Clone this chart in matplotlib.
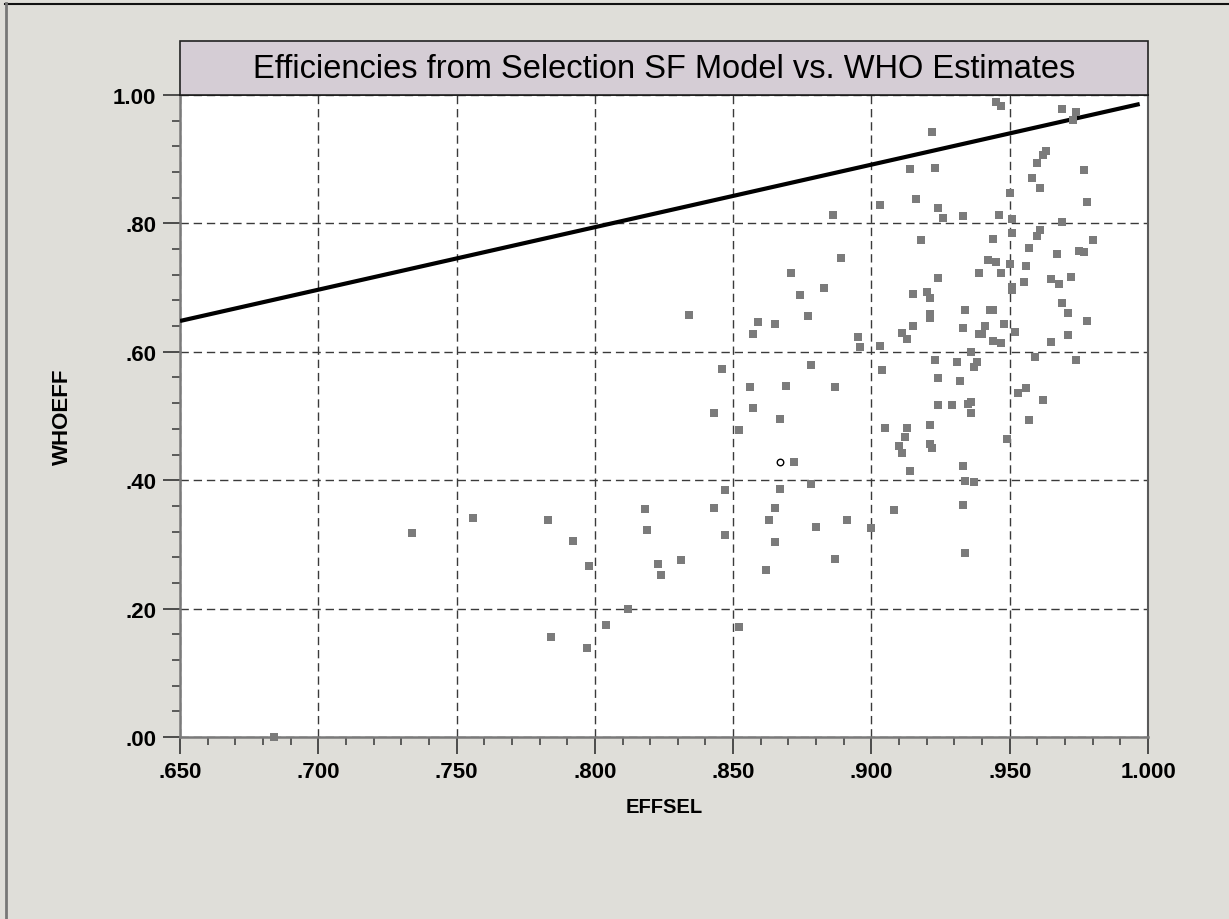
import matplotlib
matplotlib.use('Agg')
import matplotlib.pyplot as plt
from matplotlib.patches import Rectangle
from matplotlib.lines import Line2D
from matplotlib.ticker import MultipleLocator

plt.rcParams['font.family'] = ['Liberation Sans', 'DejaVu Sans']

# efficiency pairs (EFFSEL, WHOEFF)
eff_sel = [
    .734, .756, .783, .792, .798, .812, .804, .784, .797, .684,
    .843, .857, .867, .852, .905, .872, .847, .878, .867, .818,
    .843, .865, .819, .863, .880, .891, .900, .847, .865, .831,
    .823, .887, .824, .862, .852,
    .903, .886, .889, .871, .883, .874, .834, .877, .859, .865,
    .857, .895, .896, .903, .878, .904, .846, .856, .869, .887,
    .945, .947, .969, .974, .973, .922, .963, .962, .960, .977,
    .914, .923, .958, .961, .950, .916, .978, .924, .926, .933,
    .946, .951, .969, .951, .961, .960, .980, .918, .944, .957,
    .967, .975, .977, .942, .945, .950, .956, .939, .947, .924,
    .972, .965, .968, .955, .951, .951, .915, .920, .921, .969,
    .934, .943, .944, .971, .921, .921, .978, .915, .911, .933,
    .941, .940, .939, .948, .913, .952, .971, .965, .944, .947,
    .936, .959, .923, .974, .931, .938, .937, .924, .932, .956,
    .953, .962, .924, .929, .935, .936,
    .936, .957, .913, .921, .912, .910, .921, .922, .911, .949,
    .933, .914, .934, .937, .908, .933, .934,
]
who_eff = [
    .318, .341, .338, .305, .266, .200, .175, .155, .138, .000,
    .504, .512, .495, .478, .482, .428, .385, .394, .386, .355,
    .356, .356, .322, .338, .327, .338, .326, .314, .303, .275,
    .269, .277, .252, .260, .171,
    .828, .813, .746, .723, .700, .688, .657, .655, .647, .643,
    .627, .623, .607, .609, .579, .571, .573, .545, .546, .545,
    .989, .983, .978, .973, .961, .943, .912, .906, .894, .883,
    .884, .886, .870, .855, .848, .838, .834, .824, .808, .811,
    .813, .807, .802, .785, .790, .781, .774, .774, .775, .761,
    .752, .757, .755, .743, .740, .737, .733, .723, .723, .715,
    .716, .713, .706, .709, .701, .697, .690, .693, .684, .676,
    .665, .665, .665, .660, .659, .652, .648, .640, .630, .637,
    .640, .628, .628, .644, .620, .631, .626, .616, .617, .614,
    .599, .592, .588, .587, .584, .584, .576, .559, .554, .543,
    .536, .525, .517, .517, .519, .522,
    .504, .493, .482, .486, .467, .454, .457, .450, .443, .464,
    .422, .414, .398, .397, .353, .361, .286,
]

# highlighted observation (open circle)
odd_x = [.867]
odd_y = [.428]

# reference line
fit_x = [0.650, 0.997]
fit_y = [0.648, 0.986]

x_ticks = [.65, .70, .75, .80, .85, .90, .95, 1.0]
x_labels = ['.650', '.700', '.750', '.800', '.850', '.900', '.950', '1.000']
y_ticks = [0.0, 0.2, 0.4, 0.6, 0.8, 1.0]
y_labels = ['.00', '.20', '.40', '.60', '.80', '1.00']

W, H = 1229, 920
fig = plt.figure(figsize=(W / 100, H / 100), dpi=100, facecolor='#dfded9')
ax = fig.add_axes([180 / W, 1 - 738 / H, 968 / W, 642 / H])
ax.set_facecolor('white')

ax.set_xlim(0.65, 1.0)
ax.set_ylim(0.0, 1.0)

ax.grid(True, which='major', linestyle=(0, (6, 3.5)), color='#3a3a3a', linewidth=1.0, zorder=1)
ax.set_axisbelow(True)

ax.plot(fit_x, fit_y, color='black', linewidth=3.0, solid_capstyle='butt', zorder=3)
ax.scatter(eff_sel, who_eff, marker='s', s=26, color='#7b7b7b', linewidths=0, zorder=4, clip_on=False)
ax.scatter(odd_x, odd_y, marker='o', s=22, facecolors='white', edgecolors='black', linewidths=1.0, zorder=5)

ax.set_xticks(x_ticks)
ax.set_xticklabels(x_labels, fontweight='bold')
ax.set_yticks(y_ticks)
ax.set_yticklabels(y_labels, fontweight='bold')
ax.xaxis.set_minor_locator(MultipleLocator(0.01))
ax.yaxis.set_minor_locator(MultipleLocator(0.04))
ax.tick_params(which='major', direction='out', length=12, width=1.2, color='#333333', labelsize=16, pad=5)
ax.tick_params(which='minor', direction='out', length=6, width=1.2, color='#444444')

for side in ['left', 'bottom']:
    ax.spines[side].set_color('#7a7a7a')
    ax.spines[side].set_linewidth(1.8)
ax.spines['right'].set_color('#5a5a5a')
ax.spines['right'].set_linewidth(1.5)
ax.spines['top'].set_color('black')
ax.spines['top'].set_linewidth(1.2)

# title box
fig.add_artist(Rectangle((180 / W, 1 - 96 / H), 968 / W, 54 / H, transform=fig.transFigure,
                         facecolor='#d5cdd5', edgecolor='#222222', linewidth=1.2))
fig.text(664 / W, 1 - 69 / H, 'Efficiencies from Selection SF Model vs. WHO Estimates',
         ha='center', va='center', fontsize=23.5)

fig.text(664 / W, 1 - 808 / H, 'EFFSEL', ha='center', va='center', fontsize=14.5, fontweight='bold')
fig.text(62 / W, 1 - 417 / H, 'WHOEFF', ha='center', va='center', rotation=90, fontsize=16, fontweight='bold')

# outer frame edges
fig.add_artist(Line2D([5 / W, 1], [1 - 4.5 / H, 1 - 4.5 / H], color='#111111', linewidth=1.5, transform=fig.transFigure))
fig.add_artist(Line2D([6 / W, 6 / W], [0, 1 - 4 / H], color='#777777', linewidth=2.0, transform=fig.transFigure))

fig.savefig('out.png', dpi=100, facecolor=fig.get_facecolor())
